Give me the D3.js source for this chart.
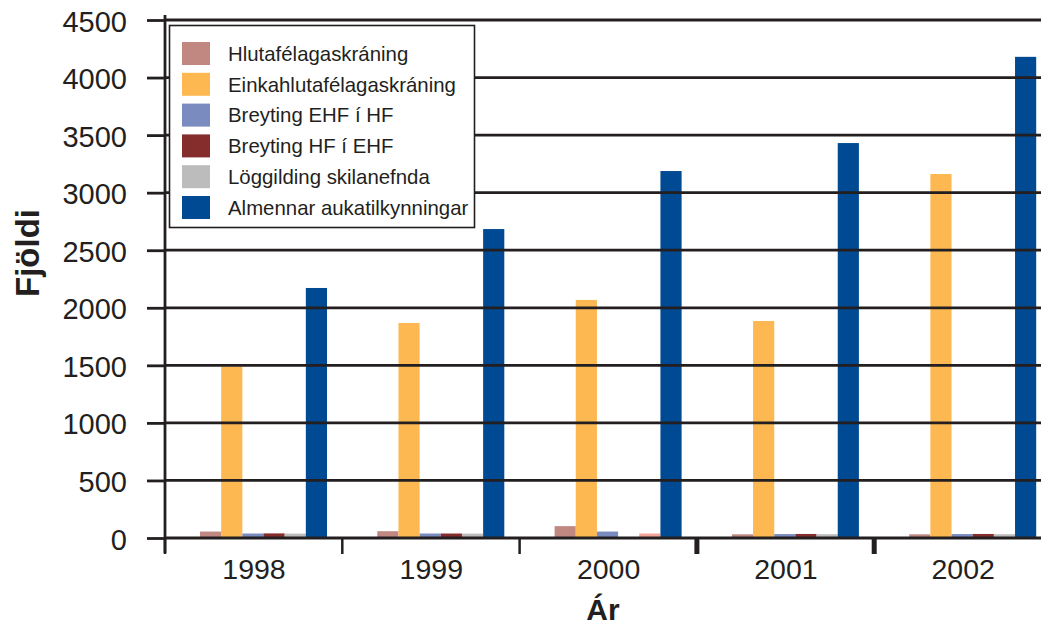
<!DOCTYPE html>
<html>
<head>
<meta charset="utf-8">
<script src="https://cdn.jsdelivr.net/npm/d3@7"></script>
<style>
  html, body { margin: 0; padding: 0; background: #fff; }
  svg { display: block; font-family: "Liberation Sans", Arial, Helvetica, sans-serif; }
</style>
</head>
<body>
<svg id="chart" width="1041" height="628"></svg>
<script>
// Years on the x axis
const years = ["1998", "1999", "2000", "2001", "2002"];

// Series names, in drawing order within each year
const seriesNames = [
  "Hlutafélagaskráning",
  "Einkahlutafélagaskráning",
  "Breyting EHF í HF",
  "Breyting HF í EHF",
  "Löggilding skilanefnda",
  "Almennar aukatilkynningar"
];

// Values per series (one per year)
const hlutafelag      = [56, 59, 103, 32, 32];
const einkahlutafelag = [1490, 1868, 2068, 1885, 3162];
const breytingEhfHf   = [39, 39, 56, 34, 34];
const breytingHfEhf   = [40, 39, 0, 35, 35];
const loggilding      = [38, 38, 39, 33, 33];
const almennar        = [2172, 2684, 3188, 3431, 4180];

const seriesValues = [hlutafelag, einkahlutafelag, breytingEhfHf, breytingHfEhf, loggilding, almennar];

const seriesColors = ["#C08880", "#FDB851", "#7A8BBF", "#852D2D", "#BCBCBC", "#004A93"];
// A single point drawn in its own colour (Löggilding skilanefnda, 2000)
const pointColors = { "4-2": "#F4A496" };

const yTicks = [0, 500, 1000, 1500, 2000, 2500, 3000, 3500, 4000, 4500];

const svg = d3.select("#chart");
const ink = "#231F20";

const plotLeft = 165, plotBottom = 538, plotTop = 20;
const bandWidth = 177.3;

const y = d3.scaleLinear().domain([0, 4500]).range([plotBottom, plotTop]);
const x = d3.scaleBand().domain(years).range([plotLeft, plotLeft + bandWidth * years.length]).padding(0);
const xInner = d3.scaleBand().domain(d3.range(seriesNames.length)).range([35, 162]).padding(0);

// Bars
const barsG = svg.append("g");
seriesValues.forEach((vals, si) => {
  barsG.selectAll(null)
    .data(vals.map((v, yi) => ({ v, yi })))
    .enter()
    .append("rect")
    .attr("x", d => x(years[d.yi]) + xInner(si))
    .attr("width", xInner.bandwidth())
    .attr("y", d => y(d.v))
    .attr("height", d => plotBottom - y(d.v))
    .attr("fill", d => pointColors[si + "-" + d.yi] || seriesColors[si]);
});

// Horizontal gridlines, drawn over the bars
svg.append("g")
  .selectAll("line")
  .data(yTicks.filter(t => t > 0))
  .enter()
  .append("line")
  .attr("x1", plotLeft)
  .attr("x2", 1041)
  .attr("y1", d => y(d))
  .attr("y2", d => y(d))
  .attr("stroke", ink)
  .attr("stroke-width", 2.8);

// Y axis
const yAxis = d3.axisLeft(y).tickValues(yTicks).tickSize(18).tickPadding(20).tickFormat(d3.format("d"));
const yG = svg.append("g").attr("transform", `translate(${plotLeft},0)`).call(yAxis);
yG.select(".domain").remove();
yG.selectAll(".tick line").attr("stroke", ink).attr("stroke-width", 2.8);
yG.selectAll(".tick text")
  .attr("fill", ink)
  .attr("font-size", 29)
  .attr("font-family", "Liberation Sans, Arial, sans-serif")
  .attr("dy", "0.38em");
svg.append("line")
  .attr("x1", plotLeft).attr("x2", plotLeft)
  .attr("y1", plotTop - 5).attr("y2", plotBottom + 15)
  .attr("stroke", ink).attr("stroke-width", 2.8);

// X axis: baseline and category separators
svg.append("line")
  .attr("x1", plotLeft).attr("x2", 1041)
  .attr("y1", plotBottom).attr("y2", plotBottom)
  .attr("stroke", ink).attr("stroke-width", 3);
svg.append("g")
  .selectAll("line")
  .data(years)
  .enter()
  .append("line")
  .attr("x1", d => x(d))
  .attr("x2", d => x(d))
  .attr("y1", plotBottom)
  .attr("y2", plotBottom + 16)
  .attr("stroke", ink)
  .attr("stroke-width", (d, i) => i >= 3 ? 5 : 2.5);

// Year labels
svg.append("g")
  .selectAll("text")
  .data(years)
  .enter()
  .append("text")
  .attr("x", d => x(d) + 89)
  .attr("y", 579)
  .attr("text-anchor", "middle")
  .attr("font-size", 28.5)
  .attr("fill", ink)
  .text(d => d);

// Axis titles
svg.append("text")
  .attr("x", 603)
  .attr("y", 620)
  .attr("text-anchor", "middle")
  .attr("font-size", 30)
  .attr("font-weight", "bold")
  .attr("fill", ink)
  .text("Ár");

svg.append("text")
  .attr("transform", "translate(39,253) rotate(-90)")
  .attr("text-anchor", "middle")
  .attr("font-size", 33)
  .attr("font-weight", "bold")
  .attr("fill", ink)
  .text("Fjöldi");

// Legend
const legend = svg.append("g");
legend.append("rect")
  .attr("x", 169.5).attr("y", 25.5)
  .attr("width", 305).attr("height", 202)
  .attr("fill", "#fff")
  .attr("stroke", ink)
  .attr("stroke-width", 1.6);

const rowTop = 42, rowStep = 30.8;
const items = legend.selectAll("g.item")
  .data(seriesNames)
  .enter()
  .append("g")
  .attr("transform", (d, i) => `translate(0,${rowTop + i * rowStep})`);
items.append("rect")
  .attr("x", 182).attr("y", 0)
  .attr("width", 28).attr("height", 23)
  .attr("fill", (d, i) => seriesColors[i]);
items.append("text")
  .attr("x", 228).attr("y", 11.5)
  .attr("dy", "0.36em")
  .attr("font-size", 20.4)
  .attr("fill", ink)
  .text(d => d);
</script>
</body>
</html>
